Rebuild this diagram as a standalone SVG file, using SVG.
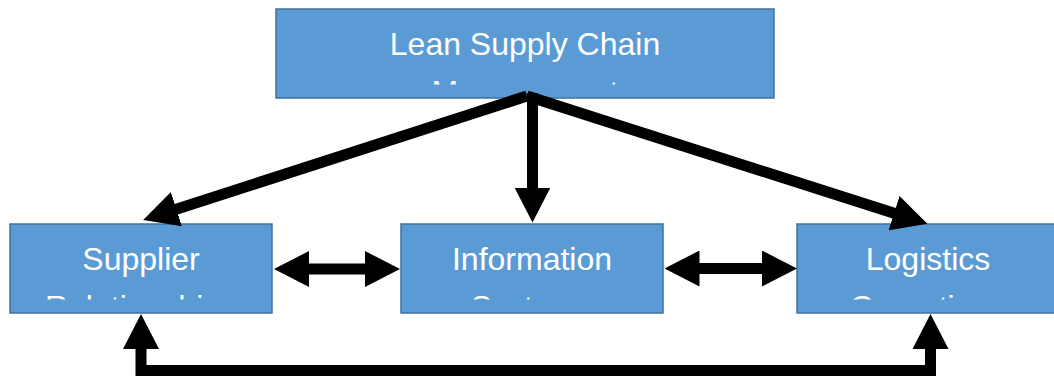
<svg xmlns="http://www.w3.org/2000/svg" width="1054" height="378" viewBox="0 0 1054 378">
  <style>
    .box { fill: #5B9BD5; stroke: #41719C; stroke-width: 1.5; }
    .lbl { fill: #FFFFFF; font-family: "Liberation Sans", Arial, sans-serif; font-size: 32px; text-anchor: middle; }
    .conn { fill: none; stroke: #000000; stroke-width: 11; stroke-linejoin: miter; }
  </style>
  <defs>
    <marker id="head" markerUnits="userSpaceOnUse" markerWidth="36" markerHeight="36" viewBox="0 0 36 36" refX="1" refY="18" orient="auto-start-reverse">
      <path d="M0,0 L35,18 L0,36 Z" fill="#000000"/>
    </marker>
    <clipPath id="clipTop" clipPathUnits="userSpaceOnUse">
      <rect x="276" y="9" width="498" height="75.5"/>
    </clipPath>
    <clipPath id="clipBottom" clipPathUnits="userSpaceOnUse">
      <rect x="0" y="224" width="1054" height="75.5"/>
    </clipPath>
  </defs>

  <g id="node-lean">
    <rect class="box" x="276" y="9" width="498" height="89"/>
    <g clip-path="url(#clipTop)">
      <text class="lbl" x="525" y="55">Lean Supply Chain</text>
      <text class="lbl" x="525" y="102.5">Management</text>
    </g>
  </g>

  <g id="node-supplier">
    <rect class="box" x="10" y="224" width="262" height="89"/>
    <g clip-path="url(#clipBottom)">
      <text class="lbl" x="141" y="270">Supplier</text>
      <text class="lbl" x="141" y="317.5">Relationships</text>
    </g>
  </g>

  <g id="node-information">
    <rect class="box" x="401" y="224" width="262" height="89"/>
    <g clip-path="url(#clipBottom)">
      <text class="lbl" x="532" y="270">Information</text>
      <text class="lbl" x="532" y="317.5">Systems</text>
    </g>
  </g>

  <g id="node-logistics">
    <rect class="box" x="797" y="224" width="262" height="89"/>
    <g clip-path="url(#clipBottom)">
      <text class="lbl" x="928" y="270">Logistics</text>
      <text class="lbl" x="928" y="317.5">Operations</text>
    </g>
  </g>

  <g id="connectors">
    <path class="conn" d="M527,96 L175.5,209.5" marker-end="url(#head)"/>
    <path class="conn" d="M532.5,93 L532.5,188.5" marker-end="url(#head)"/>
    <path class="conn" d="M527,96 L895,213.5" marker-end="url(#head)"/>
    <path class="conn" d="M308,269 L366,269" marker-start="url(#head)" marker-end="url(#head)"/>
    <path class="conn" d="M698.5,268.5 L763,268.5" marker-start="url(#head)" marker-end="url(#head)"/>
    <path class="conn" d="M141,348 L141,370.5 L930.5,370.5 L930.5,348" marker-start="url(#head)" marker-end="url(#head)"/>
  </g>
</svg>
